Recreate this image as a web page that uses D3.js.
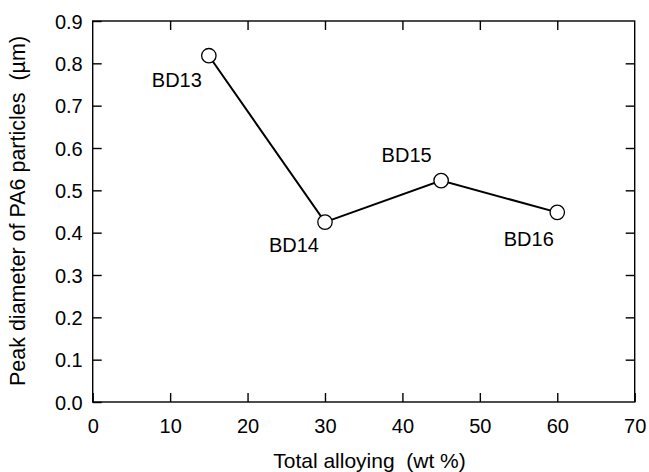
<!DOCTYPE html>
<html>
<head>
<meta charset="utf-8">
<script src="https://cdn.jsdelivr.net/npm/d3@7"></script>
<style>
body { margin: 0; background: #fff; }
text { font-family: "Liberation Sans", Arial, sans-serif; fill: #000; }
</style>
</head>
<body>
<div id="chart"></div>
<script>
// data
var samples = ["BD13", "BD14", "BD15", "BD16"];
var alloying = [15, 30, 45, 60];
var diameter = [0.818, 0.425, 0.523, 0.448];
var xTicks = [0, 10, 20, 30, 40, 50, 60, 70];
var yTicks = [0, 0.1, 0.2, 0.3, 0.4, 0.5, 0.6, 0.7, 0.8, 0.9];
// label offsets from the point to the text baseline centre (dx, dy)
var labelPos = [[-32, 31], [-31, 29.5], [-34.5, -19], [-28.5, 33.5]];

var W = 649, H = 472;
var margin = {top: 21, right: 14.3, bottom: 70, left: 92.7};
var w = W - margin.left - margin.right,
    h = H - margin.top - margin.bottom;

var x = d3.scaleLinear().domain([0, 70]).range([0, w]);
var y = d3.scaleLinear().domain([0, 0.9]).range([h, 0]);

var svg = d3.select("#chart").append("svg")
    .attr("width", W).attr("height", H)
    .append("g").attr("transform", "translate(" + margin.left + "," + margin.top + ")");

// frame
svg.append("rect").attr("width", w).attr("height", h)
    .attr("fill", "none").attr("stroke", "#000").attr("stroke-width", 1.4);

var fs = 20, titleFs = 21;
var gx = svg.append("g").attr("transform", "translate(0," + h + ")")
    .call(d3.axisBottom(x).tickValues(xTicks).tickSizeInner(-9).tickSizeOuter(0));
var gy = svg.append("g")
    .call(d3.axisLeft(y).tickValues(yTicks).tickFormat(d3.format(".1f")).tickSizeInner(-9).tickSizeOuter(0).tickPadding(10));
var gt = svg.append("g")
    .call(d3.axisTop(x).tickValues(xTicks.slice(1, -1)).tickFormat("").tickSizeInner(-9).tickSizeOuter(0));
var gr = svg.append("g").attr("transform", "translate(" + w + ",0)")
    .call(d3.axisRight(y).tickValues(yTicks.slice(1, -1)).tickFormat("").tickSizeInner(-9).tickSizeOuter(0));

[gx, gy, gt, gr].forEach(function (g) {
    g.select(".domain").remove();
    g.attr("font-size", null).attr("font-family", null);
    g.selectAll(".tick line").attr("stroke", "#000").attr("stroke-width", 1.4);
    g.selectAll("text").style("font-size", fs + "px");
});
gx.selectAll("text").attr("dy", null).attr("y", 31.3);
gy.selectAll("text").attr("dy", "0.36em");

// line
var pts = alloying.map(function (d, i) { return {x: d, y: diameter[i], name: samples[i]}; });
svg.append("path").datum(pts)
    .attr("fill", "none").attr("stroke", "#000").attr("stroke-width", 2)
    .attr("d", d3.line().x(function (d) { return x(d.x); }).y(function (d) { return y(d.y); }));

svg.selectAll("circle").data(pts).enter().append("circle")
    .attr("cx", function (d) { return x(d.x); })
    .attr("cy", function (d) { return y(d.y); })
    .attr("r", 7.2)
    .attr("fill", "#fff").attr("stroke", "#000").attr("stroke-width", 1.3);

svg.selectAll(".lbl").data(pts).enter().append("text").attr("class", "lbl")
    .attr("x", function (d, i) { return x(d.x) + labelPos[i][0]; })
    .attr("y", function (d, i) { return y(d.y) + labelPos[i][1]; })
    .attr("text-anchor", "middle")
    .style("font-size", fs + "px")
    .text(function (d) { return d.name; });

// axis titles
svg.append("text").attr("x", (268.3 + 470.7) / 2 - margin.left).attr("y", h + 66)
    .attr("text-anchor", "middle").style("font-size", titleFs + "px")
    .attr("xml:space", "preserve")
    .text("Total alloying  (wt %)");
svg.append("text")
    .attr("transform", "translate(" + (25 - margin.left) + "," + (211 - margin.top) + ") rotate(-90)")
    .attr("text-anchor", "middle").style("font-size", (titleFs + 0.5) + "px")
    .attr("xml:space", "preserve")
    .text("Peak diameter of PA6 particles  (\u00b5m)");
</script>
</body>
</html>
